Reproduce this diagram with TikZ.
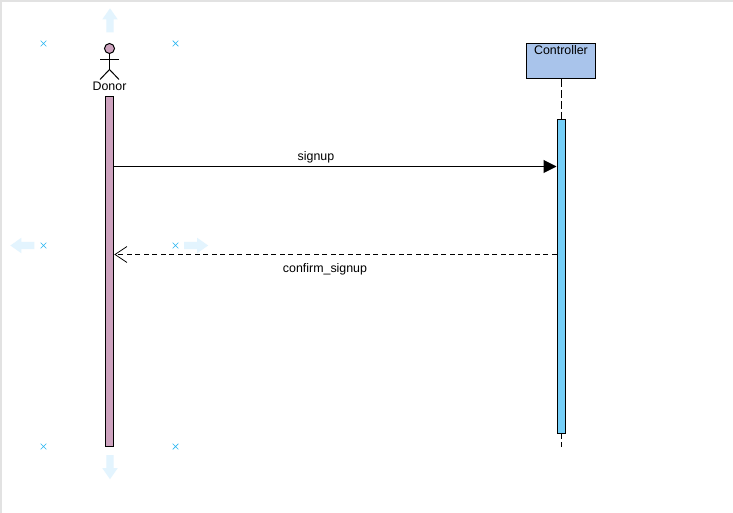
\documentclass[tikz,border=0pt]{standalone}
\usepackage{fontspec}
\setmainfont{Liberation Sans}
\usetikzlibrary{shapes,arrows.meta,positioning}
\definecolor{donorfill}{HTML}{CDA2BE}
\definecolor{ctrlfill}{HTML}{A9C4EB}
\definecolor{barfill}{HTML}{75CFF8}
\definecolor{handle}{HTML}{29B6F2}
\definecolor{hint}{HTML}{E3F4FE}
\definecolor{edge}{HTML}{E2E2E2}
\tikzstyle{lbl} = [inner sep = 0pt, font = \fontsize{12.4}{14}\selectfont]
\tikzstyle{xnode} = [cross out, draw = handle, line width = 0.7pt, inner sep = 0pt, minimum size = 5pt]
\tikzstyle{hnode} = [single arrow, fill = hint, inner sep = 3.5pt, minimum height = 24pt, minimum width = 15pt, single arrow head extend = 4pt, single arrow tip angle = 70]
\tikzstyle{bar} = [draw, line width = 1pt, inner sep = 0pt]
\tikzstyle{line} = [draw, line width = 1pt]
\tikzstyle{lifeline} = [draw, line width = 1pt, dash pattern = on 8pt off 3pt]

\begin{document}
\begin{tikzpicture}[x = 1pt, y = -1pt]
			\useasboundingbox (0, -0.5) rectangle (733, 512.5);
			\fill [white] (0, -0.5) rectangle (733, 512.5);
			\path [draw = edge, line width = 1.5pt] (1, 512.5) -- (1, 0.5) -- (733, 0.5);
			
			\node [hnode, rotate = 90] (up) at (110, 22.5) {};
			\node [hnode, rotate = 270] (down) at (110, 464) {};
			\node [hnode, rotate = 180] (left) at (25, 245) {};
			\node [hnode] (right) at (193.5, 245) {};
			
			\node [xnode] (x1) at (43.5, 43) {};
			\node [xnode] (x2) at (175.5, 43) {};
			\node [xnode] (x3) at (43.5, 245) {};
			\node [xnode] (x4) at (175.5, 245) {};
			\node [xnode] (x5) at (43.5, 446) {};
			\node [xnode] (x6) at (175.5, 446) {};
			
			\node [circle, draw, fill = donorfill, line width = 1pt, inner sep = 0pt, minimum size = 10pt] (head) at (109.5, 48) {};
			\coordinate (hip) at (109.5, 69);
			\coordinate (armL) at (100, 59);
			\coordinate (armR) at (119, 59);
			\coordinate (legL) at (100, 79);
			\coordinate (legR) at (119, 79);
			\path [line] (head) -- (hip);
			\path [line] (armL) -- (armR);
			\path [line] (legL) -- (hip) -- (legR);
			\node [lbl] (donor) at (109.5, 85.5) {Donor};
			
			\node [bar, fill = donorfill, minimum width = 8.5pt, minimum height = 350pt] (donorbar) at (109.5, 271) {};
			
			\node [bar, fill = ctrlfill, minimum width = 69pt, minimum height = 35pt] (ctrl) at (561, 60.5) {};
			\node [lbl] (ctrltext) at (561, 50) {Controller};
			\node [bar, fill = barfill, minimum width = 8pt, minimum height = 314pt] (ctrlbar) at (561, 276) {};
			\coordinate (ctrlend) at (561, 447);
			\path [lifeline] (ctrl.south) -- (ctrlbar.north);
			\path [lifeline, dash pattern = on 5pt off 3pt] (ctrlbar.south) -- (ctrlend);
			
			\coordinate (a1) at (donorbar.east |- 0, 166);
			\coordinate (b1) at (ctrlbar.west |- 0, 166);
			\coordinate (a2) at (donorbar.east |- 0, 254);
			\coordinate (b2) at (ctrlbar.west |- 0, 254);
			\path [line, -{Triangle[length = 13pt, width = 13pt]}] (a1) -- (b1);
			\path [line, dash pattern = on 5pt off 3.5pt, -{Straight Barb[length = 12pt, width = 16pt, line width = 0.8pt]}] (b2) -- (a2);
			\node [lbl] (signup) at (316, 156.7) {signup};
			\node [lbl] (confirm) at (325, 268.7) {confirm\_signup};
\end{tikzpicture}
\end{document}
